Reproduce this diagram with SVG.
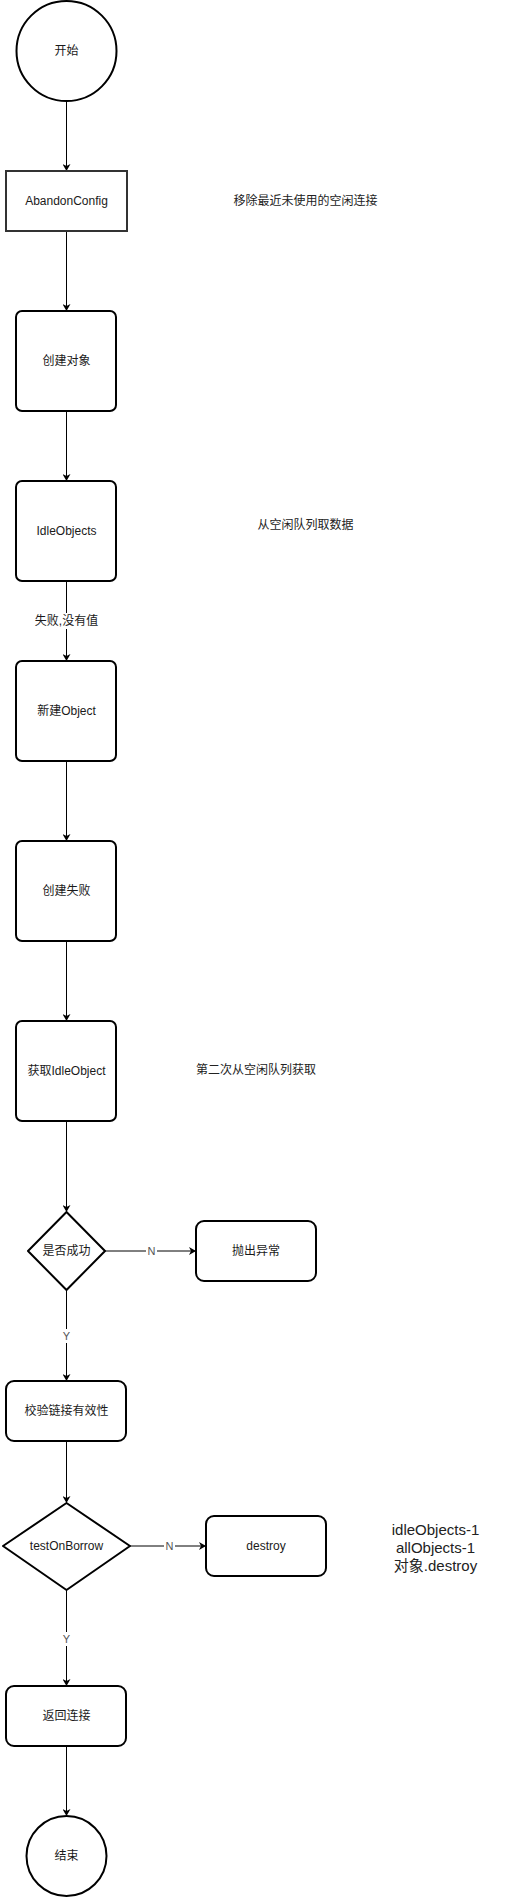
<svg xmlns="http://www.w3.org/2000/svg" width="517" height="1897" viewBox="0 0 517 1897">
<defs>
<marker id="arr" markerWidth="8" markerHeight="8" refX="7" refY="4" orient="auto" markerUnits="userSpaceOnUse">
<path d="M0,0 L7,4 L0,8 L2,4 Z" fill="#000"/>
</marker>
<style>
.n{fill:#fff;stroke:#000;stroke-width:2}
.t{font-family:"Liberation Sans","Noto Sans CJK SC",sans-serif;font-size:12px;fill:#1a1a1a;text-anchor:middle;dominant-baseline:central}
.e{fill:none;stroke:#000;stroke-width:1;marker-end:url(#arr)}
.lb{font-family:"Liberation Sans","Noto Sans CJK SC",sans-serif;font-size:11px;fill:#555;text-anchor:middle;dominant-baseline:central}
.note{font-family:"Liberation Sans","Noto Sans CJK SC",sans-serif;font-size:12px;fill:#222;text-anchor:middle;dominant-baseline:central}
</style>
</defs>
<rect width="517" height="1897" fill="#fff"/>
<g id="edges">
<line class="e" x1="66.5" y1="101" x2="66.5" y2="171"/>
<line class="e" x1="66.5" y1="232" x2="66.5" y2="311"/>
<line class="e" x1="66.5" y1="411" x2="66.5" y2="481"/>
<line class="e" x1="66.5" y1="581" x2="66.5" y2="661"/>
<rect x="35" y="613" width="63" height="16" fill="#fff"/>
<text class="t" x="66.5" y="621">失败,没有值</text>
<line class="e" x1="66.5" y1="761" x2="66.5" y2="841"/>
<line class="e" x1="66.5" y1="941" x2="66.5" y2="1021"/>
<line class="e" x1="66.5" y1="1121" x2="66.5" y2="1212"/>
<line class="e" x1="105" y1="1251" x2="196" y2="1251"/>
<rect x="146" y="1244" width="11" height="14" fill="#fff"/>
<text class="lb" x="151.5" y="1251">N</text>
<line class="e" x1="66.5" y1="1290" x2="66.5" y2="1381"/>
<rect x="61" y="1329" width="11" height="14" fill="#fff"/>
<text class="lb" x="66.5" y="1336">Y</text>
<line class="e" x1="66.5" y1="1441" x2="66.5" y2="1503"/>
<line class="e" x1="130" y1="1546" x2="206" y2="1546"/>
<rect x="164" y="1539" width="11" height="14" fill="#fff"/>
<text class="lb" x="169.5" y="1546">N</text>
<line class="e" x1="66.5" y1="1590" x2="66.5" y2="1686"/>
<rect x="61" y="1632" width="11" height="14" fill="#fff"/>
<text class="lb" x="66.5" y="1639">Y</text>
<line class="e" x1="66.5" y1="1746" x2="66.5" y2="1816"/>
</g>
<g id="start">
<circle class="n" cx="66.5" cy="51" r="50"/>
<text class="t" x="66.5" y="51">开始</text>
</g>
<g id="abandonConfig">
<rect x="6" y="171" width="121" height="60" fill="#fff" stroke="#333" stroke-width="2"/>
<text class="t" x="66.5" y="201">AbandonConfig</text>
</g>
<g id="note1"><text class="note" x="305.5" y="201">移除最近未使用的空闲连接</text></g>
<g id="createObj">
<rect class="n" x="16" y="311" width="100" height="100" rx="6"/>
<text class="t" x="66.5" y="361">创建对象</text>
</g>
<g id="idleObjects">
<rect class="n" x="16" y="481" width="100" height="100" rx="6"/>
<text class="t" x="66.5" y="531">IdleObjects</text>
</g>
<g id="note2"><text class="note" x="305.5" y="525">从空闲队列取数据</text></g>
<g id="newObject">
<rect class="n" x="16" y="661" width="100" height="100" rx="6"/>
<text class="t" x="66.5" y="711">新建Object</text>
</g>
<g id="createFail">
<rect class="n" x="16" y="841" width="100" height="100" rx="6"/>
<text class="t" x="66.5" y="891">创建失败</text>
</g>
<g id="getIdle">
<rect class="n" x="16" y="1021" width="100" height="100" rx="6"/>
<text class="t" x="66.5" y="1071">获取IdleObject</text>
</g>
<g id="note3"><text class="note" x="256" y="1070">第二次从空闲队列获取</text></g>
<g id="success">
<path class="n" d="M66.5,1212 L105,1251 L66.5,1290 L28,1251 Z" stroke-linejoin="round"/>
<text class="t" x="66.5" y="1251">是否成功</text>
</g>
<g id="throw">
<rect class="n" x="196" y="1221" width="120" height="60" rx="8"/>
<text class="t" x="256" y="1251">抛出异常</text>
</g>
<g id="validate">
<rect class="n" x="6" y="1381" width="120" height="60" rx="8"/>
<text class="t" x="66.5" y="1411">校验链接有效性</text>
</g>
<g id="testOnBorrow">
<path class="n" d="M66.5,1503 L130,1546 L66.5,1590 L3,1546 Z" stroke-linejoin="round"/>
<text class="t" x="66.5" y="1546">testOnBorrow</text>
</g>
<g id="destroy">
<rect class="n" x="206" y="1516" width="120" height="60" rx="8"/>
<text class="t" x="266" y="1546">destroy</text>
</g>
<g id="note4">
<text class="note" style="font-size:15px" x="435.5" y="1529">idleObjects-1</text>
<text class="note" style="font-size:15px" x="435.5" y="1547">allObjects-1</text>
<text class="note" style="font-size:15px" x="435.5" y="1565">对象.destroy</text>
</g>
<g id="returnConn">
<rect class="n" x="6" y="1686" width="120" height="60" rx="8"/>
<text class="t" x="66.5" y="1716">返回连接</text>
</g>
<g id="end">
<circle class="n" cx="66.5" cy="1856" r="40"/>
<text class="t" x="66.5" y="1856">结束</text>
</g>
</svg>
